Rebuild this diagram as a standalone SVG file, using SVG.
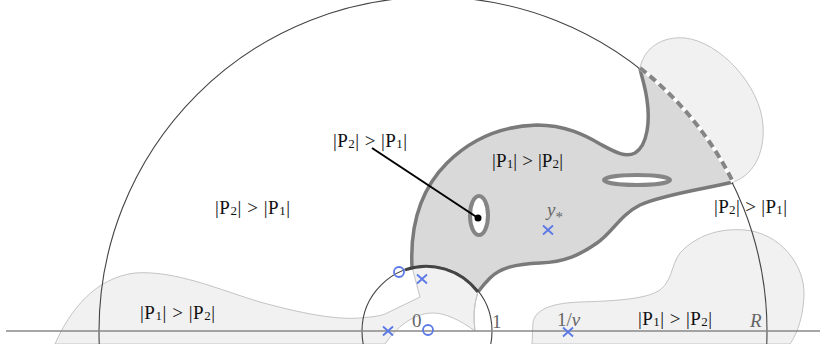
<svg xmlns="http://www.w3.org/2000/svg" width="830" height="344" viewBox="0 0 830 344">
<style>
.lbl{font-family:"Liberation Serif","Times New Roman",serif;font-size:19px;fill:#111}
.sub{font-size:13px}
.gl{font-family:"Liberation Serif","Times New Roman",serif;font-size:19px;fill:#666}
.light{fill:#f1f1f1;stroke:#c4c4c4;stroke-width:1}
.thin{fill:none;stroke:#444;stroke-width:1.1}
.mk{fill:none;stroke:#5a78e6;stroke-width:1.8}
.hole{fill:#fff;stroke:#858585;stroke-width:4}
</style>
<rect width="830" height="344" fill="#fff"/>
<g id="regions">
<path id="left-region" class="light" d="M 55,344 C 70,310 95,278 135,273 C 175,270 220,290 260,302 C 300,313 335,320 360,318 C 372,317 380,316 385,314 L 420,297 L 412,267 A 65 65 0 0 1 478,292 Q 472,310 475,331 C 460,320 445,313 433,313 C 418,313 400,322 385,344 Z"/>
<path id="right-bottom-region" class="light" d="M 532,344 L 533,322 C 536,308 555,303 580,302 C 610,301 645,300 660,290 C 675,278 670,260 685,248 C 700,235 720,228 745,230 C 780,233 805,265 804,295 C 803,320 796,335 790,344 Z"/>
<path id="upper-right-region" class="light" d="M 640,68 C 644,48 662,36 685,38 C 720,42 760,85 763,125 C 765,155 752,176 733,182 A 334 334 0 0 0 640,68 Z"/>
</g>
<g id="fish">
<path fill="#d9d9d9" d="M 412,267 C 410,225 420,190 447,163 C 470,140 500,126 537,125 C 565,125 585,135 600,144 C 615,152 625,158 635,153 C 648,145 650,120 647,100 C 645,85 641,75 640,68 A 334 334 0 0 1 733,182 C 705,189 665,194 640,205 C 620,215 612,233 597,243 C 580,255 565,262 540,263 C 515,264 500,268 490,278 C 485,283 481,288 478,292 A 65 65 0 0 0 412,267 Z"/>
<path fill="none" stroke="#7a7a7a" stroke-width="3.5" stroke-linejoin="round" d="M 412,267 C 410,225 420,190 447,163 C 470,140 500,126 537,125 C 565,125 585,135 600,144 C 615,152 625,158 635,153 C 648,145 650,120 647,100 C 645,85 641,75 640,68"/>
<path fill="none" stroke="#7a7a7a" stroke-width="3.5" stroke-linejoin="round" d="M 733,182 C 705,189 665,194 640,205 C 620,215 612,233 597,243 C 580,255 565,262 540,263 C 515,264 500,268 490,278 C 485,283 481,288 478,292"/>
<ellipse class="hole" cx="479" cy="215.5" rx="9" ry="19.5"/>
<ellipse class="hole" cx="637" cy="180" rx="33" ry="5"/>
</g>
<g id="curves">
<circle class="thin" cx="433" cy="331" r="334"/>
<path fill="none" stroke="#fff" stroke-width="4" d="M 640,68 A 334 334 0 0 1 733,182"/>
<path fill="none" stroke="#858585" stroke-width="4" stroke-dasharray="8 4.5" d="M 640,68 A 334 334 0 0 1 733,182"/>
<circle class="thin" cx="427" cy="331" r="65"/>
<path fill="none" stroke="#444" stroke-width="3" d="M 405,269.8 A 65 65 0 0 1 478,292"/>
<path fill="none" stroke="#c4c4c4" stroke-width="1" d="M 478,292 Q 472,310 475,331"/>
<line x1="6" y1="331" x2="820" y2="331" stroke="#888" stroke-width="1.6"/>
</g>
<g id="connectors">
<line x1="372" y1="148" x2="478" y2="218" stroke="#000" stroke-width="2"/>
<circle cx="478" cy="218" r="3.5" fill="#000"/>
</g>
<g id="markers">
<circle class="mk" cx="399" cy="272" r="5"/>
<circle class="mk" cx="428" cy="330" r="5"/>
<path class="mk" d="M 417,274.5 L 427,283.5 M 427,274.5 L 417,283.5"/>
<path class="mk" d="M 383,326.5 L 393,335.5 M 393,326.5 L 383,335.5"/>
<path class="mk" d="M 543,225.5 L 553,234.5 M 553,225.5 L 543,234.5"/>
<path class="mk" d="M 563,327.5 L 573,336.5 M 573,327.5 L 563,336.5"/>
</g>
<g id="labels">
<text class="lbl" x="333" y="147" textLength="74" lengthAdjust="spacing">|P<tspan class="sub" dy="1">2</tspan><tspan dy="-1">| &gt; |P</tspan><tspan class="sub" dy="1">1</tspan><tspan dy="-1">|</tspan></text>
<text class="lbl" x="492" y="167" textLength="71" lengthAdjust="spacing">|P<tspan class="sub" dy="1">1</tspan><tspan dy="-1">| &gt; |P</tspan><tspan class="sub" dy="1">2</tspan><tspan dy="-1">|</tspan></text>
<text class="lbl" x="215" y="214" textLength="75" lengthAdjust="spacing">|P<tspan class="sub" dy="1">2</tspan><tspan dy="-1">| &gt; |P</tspan><tspan class="sub" dy="1">1</tspan><tspan dy="-1">|</tspan></text>
<text class="lbl" x="714" y="213" textLength="73" lengthAdjust="spacing">|P<tspan class="sub" dy="1">2</tspan><tspan dy="-1">| &gt; |P</tspan><tspan class="sub" dy="1">1</tspan><tspan dy="-1">|</tspan></text>
<text class="lbl" x="140" y="319" textLength="75" lengthAdjust="spacing">|P<tspan class="sub" dy="1">1</tspan><tspan dy="-1">| &gt; |P</tspan><tspan class="sub" dy="1">2</tspan><tspan dy="-1">|</tspan></text>
<text class="lbl" x="638" y="325" textLength="74" lengthAdjust="spacing">|P<tspan class="sub" dy="1">1</tspan><tspan dy="-1">| &gt; |P</tspan><tspan class="sub" dy="1">2</tspan><tspan dy="-1">|</tspan></text>
<text class="gl" x="412" y="327">0</text>
<text class="gl" x="492" y="328">1</text>
<text class="gl" x="557" y="326">1/<tspan font-style="italic">ν</tspan></text>
<text class="gl" x="750" y="327" font-style="italic">R</text>
<text class="gl" x="547" y="216" font-style="italic">y<tspan font-size="15" font-style="normal" dy="6">*</tspan></text>
</g>
</svg>
